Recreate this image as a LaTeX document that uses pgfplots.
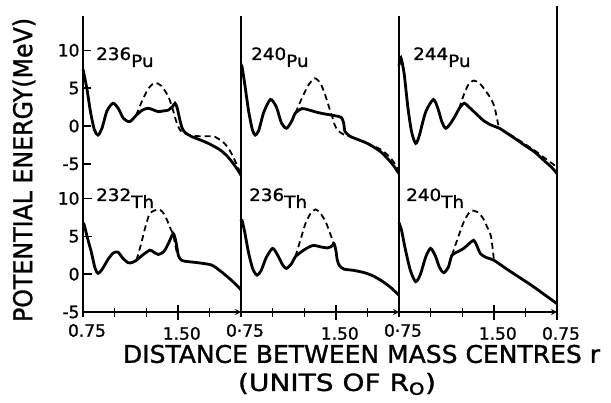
\documentclass[border=0pt]{standalone}
\usepackage{pgfplots}
\pgfplotsset{compat=1.18}
\usepackage{fontspec}
\setmainfont{DejaVu Sans}[FakeBold=1.2]
\usepackage{graphicx}

% ---------------- data ----------------
\pgfplotstableread{
r E
0.75 7.5
0.78 5.0
0.81 1.8
0.84 -0.5
0.869 -1.2
0.90 -0.3
0.94 2.0
0.988 3.0
1.03 2.3
1.07 1.0
1.12 0.57
1.17 1.4
1.22 2.1
1.266 2.34
1.31 2.1
1.345 1.9
1.39 2.0
1.425 2.1
1.46 2.6
1.478 3.0
1.495 2.4
1.515 0.9
1.535 -0.3
1.56 -0.9
1.61 -1.4
1.716 -2.1
1.82 -3.0
1.88 -3.8
1.927 -4.7
1.97 -5.7
2.0 -6.5
}\PuAs
\pgfplotstableread{
r E
1.17 1.4
1.22 3.4
1.27 5.0
1.318 5.7
1.37 5.3
1.425 3.9
1.46 2.2
1.49 0.5
1.52 -0.6
1.56 -1.0
1.62 -1.3
1.69 -1.35
1.75 -1.35
1.79 -1.4
1.84 -1.9
1.87 -2.3
1.91 -3.2
1.95 -4.5
1.98 -5.6
2.0 -6.4
}\PuAd
\pgfplotstableread{
r E
0.75 8.0
0.758 7.85
0.78 5.5
0.81 2.0
0.84 -0.5
0.863 -1.2
0.89 -0.6
0.93 1.8
0.983 3.5
1.03 2.5
1.07 0.4
1.11 -0.3
1.15 0.6
1.18 1.7
1.234 2.3
1.29 2.1
1.353 1.8
1.41 1.6
1.459 1.46
1.51 1.3
1.545 1.1
1.562 0.4
1.572 -0.7
1.60 -1.2
1.63 -1.5
1.75 -2.3
1.855 -3.4
1.92 -4.5
1.96 -5.3
2.0 -6.3
}\PuBs
\pgfplotstableread{
r E
1.18 1.7
1.23 3.6
1.28 5.3
1.332 6.3
1.38 5.6
1.42 3.9
1.45 2.3
1.472 1.2
1.49 0.2
1.512 -0.5
1.54 -0.9
1.56 -1.1
1.63 -1.5
1.75 -2.3
1.855 -3.1
1.92 -4.0
1.96 -4.8
2.0 -6.0
}\PuBd
\pgfplotstableread{
r E
0.75 8.0
0.765 9.0
0.79 7.0
0.82 2.5
0.85 -0.8
0.882 -2.3
0.91 -1.3
0.96 1.8
1.022 3.5
1.06 2.2
1.09 0.5
1.12 -0.3
1.16 0.4
1.20 1.5
1.226 2.3
1.266 3.0
1.31 2.4
1.37 1.46
1.42 0.7
1.478 0.13
1.544 -0.3
1.60 -0.9
1.663 -1.6
1.74 -2.5
1.82 -3.4
1.90 -4.6
1.96 -5.5
2.0 -6.3
}\PuCs
\pgfplotstableread{
r E
1.226 2.3
1.26 4.0
1.30 5.5
1.34 6.0
1.39 5.6
1.45 4.3
1.48 3.5
1.504 2.6
1.525 1.0
1.536 0.13
1.55 -0.35
1.663 -1.5
1.82 -3.2
1.90 -4.2
1.98 -5.2
2.0 -5.9
}\PuCd
\pgfplotstableread{
r E
0.75 6.7
0.76 6.5
0.785 4.8
0.816 2.9
0.845 0.8
0.869 0.1
0.90 0.6
0.95 2.0
0.99 2.8
1.028 2.9
1.06 2.2
1.107 1.5
1.14 1.55
1.173 1.84
1.22 2.5
1.279 3.16
1.31 2.9
1.345 2.6
1.375 2.8
1.398 3.16
1.43 4.2
1.464 5.35
1.485 4.3
1.504 2.5
1.525 1.9
1.557 1.7
1.663 1.5
1.768 1.2
1.83 0.5
1.875 -0.1
1.93 -0.9
1.98 -1.7
2.0 -2.1
}\ThAs
\pgfplotstableread{
r E
1.173 1.84
1.21 4.0
1.24 6.0
1.279 8.0
1.345 8.55
1.38 8.2
1.411 7.3
1.44 6.1
1.464 5.2
1.48 3.8
1.50 2.4
}\ThAd
\pgfplotstableread{
r E
0.75 7.0
0.758 7.1
0.78 5.5
0.81 2.8
0.845 0.6
0.877 -0.13
0.91 0.5
0.95 2.2
1.0 3.4
1.04 2.5
1.08 1.2
1.11 0.75
1.15 1.4
1.18 2.3
1.24 3.1
1.29 3.6
1.327 3.8
1.38 3.6
1.433 3.46
1.46 3.6
1.486 4.0
1.50 3.2
1.512 1.84
1.53 1.1
1.565 0.66
1.64 0.5
1.724 0.2
1.79 -0.2
1.855 -0.8
1.93 -1.7
2.0 -2.8
}\ThBs
\pgfplotstableread{
r E
1.18 2.3
1.22 4.5
1.26 6.67
1.30 8.0
1.34 8.55
1.38 8.0
1.42 6.9
1.45 5.6
1.48 4.2
1.50 3.0
}\ThBd
\pgfplotstableread{
r E
0.75 6.8
0.77 5.8
0.80 3.3
0.84 0.5
0.882 -1.0
0.92 0.0
0.96 2.2
1.0 3.4
1.04 2.3
1.07 0.9
1.103 0.2
1.14 0.9
1.169 2.5
1.22 3.0
1.262 3.4
1.31 4.1
1.341 4.47
1.365 3.8
1.394 2.7
1.44 2.2
1.50 1.84
1.60 0.7
1.70 -0.4
1.80 -1.5
1.90 -2.7
2.0 -3.9
}\ThCs
\pgfplotstableread{
r E
1.169 2.5
1.21 4.5
1.26 6.8
1.30 8.0
1.327 8.4
1.37 8.2
1.41 7.5
1.44 6.5
1.476 5.1
1.49 3.5
1.50 2.0
}\ThCd

\pgfplotsset{
  panel/.style={scale only axis, width=158pt, xmin=0.75, xmax=2.0,
    anchor=south west, axis y line=left,
    axis line style={-, line width=1.6pt},
    tick align=inside, tick style={line width=1.4pt, black},
    major tick length=8pt,
    ytick=\empty,
    every tick label/.append style={font=\fontsize{17}{17}\selectfont},
    clip=false},
  toprow/.style={panel, height=162.8pt, ymin=-7, ymax=14.5, axis x line=none},
  botrow/.style={panel, height=132.9pt, ymin=-5, ymax=12.55, axis x line=bottom,
    xtick={0.75,1.0,1.25,1.75}, major tick length=9pt,
    extra x ticks={1.5}, extra x tick labels={1.50},
    extra x tick style={major tick length=15pt},
    xticklabel style={xshift=4pt, yshift=-4pt}},
  firstcol/.style={ytick={-5,0,5,10}, yticklabels={-5,0,5,10}},
  solidc/.style={black, line width=2.8pt, smooth, tension=0.45},
  dashc/.style={black, line width=1.8pt, smooth, tension=0.45, dash pattern=on 6pt off 4pt},
}

\newcommand{\iso}[2]{\scalebox{1.08}[1]{\fontsize{17}{17}\selectfont #1\raisebox{-7pt}{#2}}}

\begin{document}
\begin{tikzpicture}[x=1pt,y=1pt]
\path[use as bounding box] (0,0) rectangle (611,402);

% top row
\begin{axis}[toprow, firstcol, at={(83pt,223pt)}]
\addplot[solidc] table {\PuAs};
\addplot[dashc] table {\PuAd};
\end{axis}
\begin{axis}[toprow, at={(241pt,223pt)}]
\addplot[solidc] table {\PuBs};
\addplot[dashc] table {\PuBd};
\end{axis}
\begin{axis}[toprow, at={(399pt,223pt)}]
\addplot[solidc] table {\PuCs};
\addplot[dashc] table {\PuCd};
\draw[line width=2.4pt] (rel axis cs:1,0) -- (rel axis cs:1,1.06);
\end{axis}

% bottom row
\begin{axis}[botrow, firstcol, at={(83pt,90pt)}, xticklabels={0.75,,,}]
\addplot[solidc] table {\ThAs};
\addplot[dashc] table {\ThAd};
\end{axis}
\begin{axis}[botrow, at={(241pt,90pt)}, xticklabels={0·75,,,}]
\addplot[solidc] table {\ThBs};
\addplot[dashc] table {\ThBd};
\end{axis}
\begin{axis}[botrow, at={(399pt,90pt)}, xticklabels={0·75,,,},
   extra x ticks={1.5,2.0}, extra x tick labels={1.50,0.75}]
\addplot[solidc] table {\ThCs};
\addplot[dashc] table {\ThCd};
\draw[line width=2.4pt] (rel axis cs:1,0) -- (rel axis cs:1,1);
\end{axis}

% isotope labels
\node[anchor=base west, inner sep=0pt] at (96,342) {\iso{236}{Pu}};
\node[anchor=base west, inner sep=0pt] at (251,342) {\iso{240}{Pu}};
\node[anchor=base west, inner sep=0pt] at (413,342) {\iso{244}{Pu}};
\node[anchor=base west, inner sep=0pt] at (96,201) {\iso{232}{Th}};
\node[anchor=base west, inner sep=0pt] at (249,201) {\iso{236}{Th}};
\node[anchor=base west, inner sep=0pt] at (406,201) {\iso{240}{Th}};

% axis titles
\node[rotate=90, inner sep=0pt] at (24,232) {\resizebox*{304pt}{23pt}{\fontsize{24}{24}\selectfont POTENTIAL ENERGY(MeV)}};
\node[inner sep=0pt] at (361.5,48) {\resizebox{477pt}{18pt}{\fontsize{25}{25}\selectfont DISTANCE BETWEEN MASS CENTRES r}};
\node[inner sep=0pt] at (337,18) {\resizebox*{198pt}{22pt}{\fontsize{23}{23}\selectfont (UNITS OF R\textsubscript{O})}};
\end{tikzpicture}
\end{document}
